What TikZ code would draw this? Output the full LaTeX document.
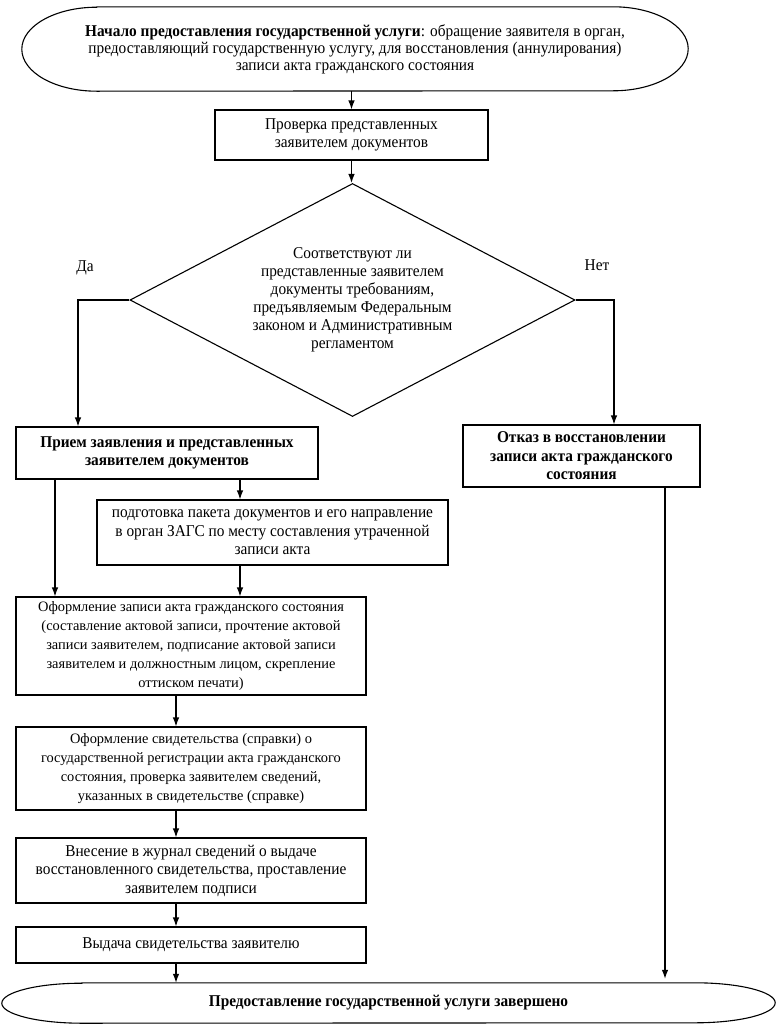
\documentclass[tikz,border=0pt]{standalone}
\usepackage{fontspec}
\setmainfont{Liberation Serif}[FakeStretch=0.93]
\newfontfamily\widefont{Liberation Serif}
\usetikzlibrary{shapes.geometric,arrows.meta}
\begin{document}
\begin{tikzpicture}[x=1pt,y=-1pt,
  every node/.style={font=\fontsize{16.5}{18.5}\selectfont},
  proc/.style={draw,line width=1.1pt,rectangle,inner sep=0pt,align=center},
  widetext/.style={font=\widefont\fontsize{14.4}{19}\selectfont},
  arr/.style={line width=1.1pt,-{Latex[length=9pt,width=6.5pt]}},
  lbl/.style={inner sep=0pt}]
\useasboundingbox (0,0) rectangle (777,1028);

% start terminal
\node[rectangle,inner sep=0pt,minimum width=666pt,minimum height=84pt,align=center,
      font=\fontsize{16.5}{17}\selectfont] (start) at (355,49)
 {\textbf{Начало предоставления государственной услуги}: обращение заявителя в орган,\\
  предоставляющий государственную услугу, для восстановления (аннулирования)\\
  записи акта гражданского состояния};
\draw[line width=1.1pt] ([xshift=75pt]start.north west) -- ([xshift=-75pt]start.north east)
  arc[start angle=90,end angle=-90,x radius=75pt,y radius=42pt]
  -- ([xshift=75pt]start.south west)
  arc[start angle=270,end angle=90,x radius=75pt,y radius=42pt] -- cycle;

\node[proc,minimum width=273pt,minimum height=50pt] (check) at (351.5,135)
 {Проверка представленных\\ заявителем документов};

\node[draw,line width=1.1pt,diamond,aspect=1.91,inner sep=0pt,minimum width=445pt,minimum height=233pt,align=center,
      font=\fontsize{16.5}{18}\selectfont] (dec) at (352.5,300)
 {Соответствуют ли\\ представленные заявителем\\ документы требованиям,\\ предъявляемым Федеральным\\ законом и Административным\\ регламентом};

\node[lbl] (da) at (85,268) {Да};
\node[lbl] (net) at (597,265) {Нет};

\node[proc,minimum width=302pt,minimum height=52pt] (recv) at (167,453)
 {\textbf{Прием заявления и представленных}\\ \textbf{заявителем документов}};

\node[proc,minimum width=237pt,minimum height=62pt] (deny) at (581.5,456)
 {\textbf{Отказ в восстановлении}\\ \textbf{записи акта гражданского}\\ \textbf{состояния}};

\node[proc,minimum width=351pt,minimum height=65pt] (pack) at (272.5,532.5)
 {подготовка пакета документов и его направление\\ в орган ЗАГС по месту составления утраченной\\ записи акта};

\node[proc,widetext,minimum width=350pt,minimum height=98pt] (rec) at (191,646)
 {Оформление записи акта гражданского состояния\\ (составление актовой записи, прочтение актовой\\ записи заявителем, подписание актовой записи\\ заявителем и должностным лицом, скрепление\\ оттиском печати)};

\node[proc,widetext,minimum width=350pt,minimum height=83pt] (cert) at (191,768.5)
 {Оформление свидетельства (справки) о\\ государственной регистрации акта гражданского\\ состояния, проверка заявителем сведений,\\ указанных в свидетельстве (справке)};

\node[proc,minimum width=350pt,minimum height=65pt] (jour) at (191,870.5)
 {Внесение в журнал сведений о выдаче\\ восстановленного свидетельства, проставление\\ заявителем подписи};

\node[proc,minimum width=350pt,minimum height=36pt] (give) at (191,945)
 {Выдача свидетельства заявителю};

% finish terminal
\node[rectangle,inner sep=0pt,minimum width=773pt,minimum height=40pt] (fin) at (388.5,1003)
 {\textbf{Предоставление государственной услуги завершено}};
\draw[line width=1.1pt] ([xshift=80pt]fin.north west) -- ([xshift=-80pt]fin.north east)
  arc[start angle=90,end angle=-90,x radius=80pt,y radius=20pt]
  -- ([xshift=80pt]fin.south west)
  arc[start angle=270,end angle=90,x radius=80pt,y radius=20pt] -- cycle;

% connectors
\draw[arr] (start.south -| check.north) -- (check.north);
\draw[arr] (check.south) -- (check.south |- dec.north);
\coordinate (yl) at ([xshift=-89pt]recv.north);
\draw[arr] (dec.west) -| (yl);
\coordinate (nr) at ([xshift=32.5pt]deny.north);
\draw[arr] (dec.east) -| (nr);
\coordinate (a1) at ([xshift=-112pt]recv.south);
\coordinate (a2) at ([xshift=73pt]recv.south);
\draw[arr] (a1) -- (a1 |- rec.north);
\draw[arr] (a2) -- (a2 |- pack.north);
\draw[arr] (a2 |- pack.south) -- (a2 |- rec.north);
\draw[arr] ([xshift=-15pt]rec.south) -- ([xshift=-15pt]cert.north);
\draw[arr] ([xshift=-15pt]cert.south) -- ([xshift=-15pt]jour.north);
\draw[arr] ([xshift=-15pt]jour.south) -- ([xshift=-15pt]give.north);
\coordinate (g1) at ([xshift=-15pt]give.south);
\draw[arr] (g1) -- (g1 |- fin.north);
\coordinate (d1) at ([xshift=83.5pt]deny.south);
\draw[arr] (d1) -- ([yshift=4pt]d1 |- fin.north);
\end{tikzpicture}
\end{document}
